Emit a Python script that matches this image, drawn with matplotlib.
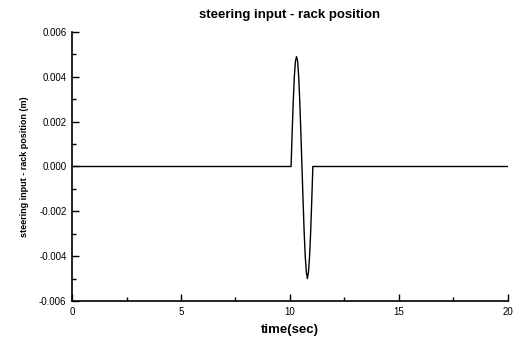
import numpy as np
import matplotlib
matplotlib.use("Agg")
from matplotlib import pyplot as plt
from matplotlib.ticker import MultipleLocator

# time (sec) and rack position (m)
t = [0, 10.05, 10.1, 10.15, 10.2, 10.25, 10.3, 10.35, 10.4, 10.45, 10.5,
     10.55, 10.6, 10.65, 10.7, 10.75, 10.8, 10.85, 10.9, 10.95, 11.0, 11.05, 20]
rack = [0, 0, 0.0015, 0.0029, 0.0040, 0.0047, 0.0049, 0.0047, 0.0040, 0.0029, 0.0015,
        0, -0.0015, -0.0029, -0.0040, -0.0047, -0.0050, -0.0047, -0.0040, -0.0029, -0.0015, 0, 0]

plt.rcParams["font.family"] = ["Liberation Sans", "DejaVu Sans"]

fig = plt.figure(figsize=(5.22, 3.44), dpi=100)
ax = fig.add_axes([0.138, 0.125, 0.835, 0.782])
ax.plot(t, rack, color="black", linewidth=1.0)

ax.set_xlim(0, 20)
ax.set_ylim(-0.006, 0.006)
ax.xaxis.set_major_locator(MultipleLocator(5))
ax.xaxis.set_minor_locator(MultipleLocator(2.5))
ax.yaxis.set_major_locator(MultipleLocator(0.002))
ax.yaxis.set_minor_locator(MultipleLocator(0.001))
ax.yaxis.set_major_formatter(lambda v, p: f"{v:.3f}".replace("-0.000", "0.000"))
ax.tick_params(which="both", direction="in", labelsize=7, width=1, pad=4)
ax.tick_params(which="major", length=5)
ax.tick_params(which="minor", length=3)
for s in ["top", "right"]:
    ax.spines[s].set_visible(False)
for s in ["left", "bottom"]:
    ax.spines[s].set_linewidth(1.2)

ax.set_title("steering input - rack position", fontsize=9.5, fontweight="bold", pad=10)
ax.set_xlabel("time(sec)", fontsize=9.5, fontweight="bold", labelpad=5)
ax.set_ylabel("steering input - rack position (m)", fontsize=6.5, fontweight="bold", labelpad=7)

fig.savefig("out.png", dpi=100)
